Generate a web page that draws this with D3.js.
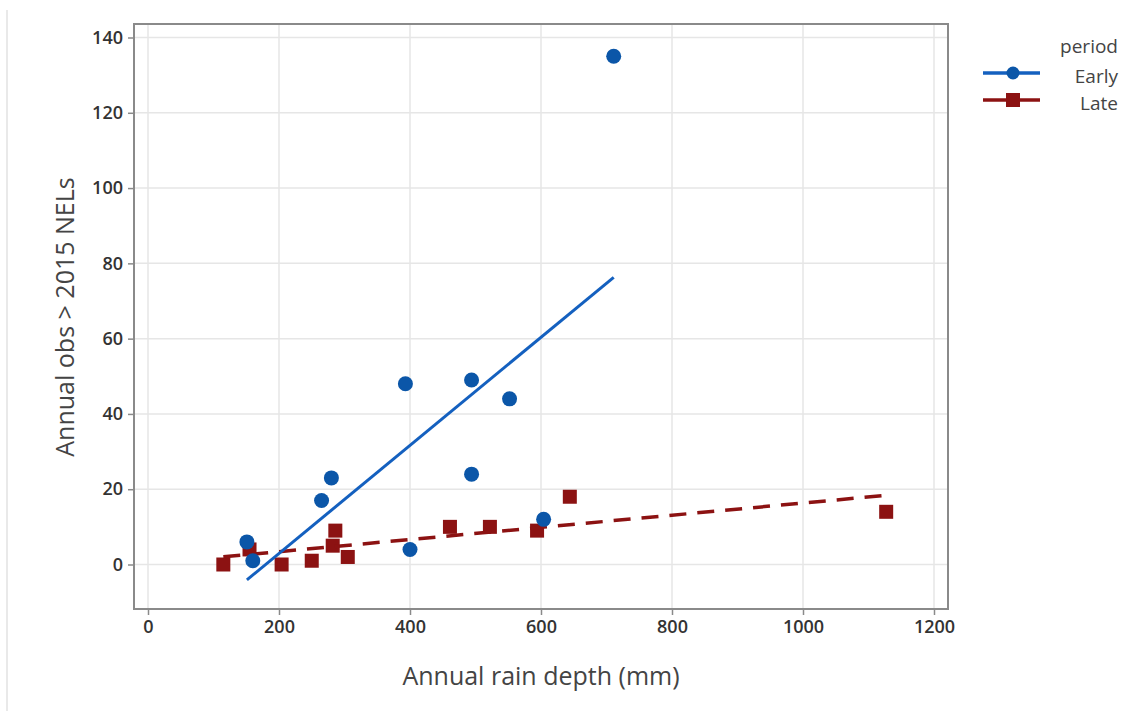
<!DOCTYPE html>
<html>
<head>
<meta charset="utf-8">
<script src="https://cdn.jsdelivr.net/npm/d3@7"></script>
<style>
  body { margin: 0; background: #fff; }
  svg { display: block; font-family: "Open Sans", "Noto Sans", sans-serif; }
</style>
</head>
<body>
<svg></svg>
<script>
// Early period observations
const earlyRain = [151, 160, 265, 280, 393, 494, 494, 552, 400, 604, 711];
const earlyObs = [6, 1, 17, 23, 48, 49, 24, 44, 4, 12, 135];
// Late period observations
const lateRain = [115, 155, 204, 250, 286, 282, 305, 461, 522, 594, 644, 1127];
const lateObs = [0, 4, 0, 1, 9, 5, 2, 10, 10, 9, 18, 14];

const xTicks = [0, 200, 400, 600, 800, 1000, 1200];
const yTicks = [0, 20, 40, 60, 80, 100, 120, 140];
const periods = ['Early', 'Late'];

let width = 1143;
let height = 711;
let panel = { left: 134, top: 24, right: 948, bottom: 609 };

let svg = d3.select('svg').attr('width', width).attr('height', height);

let xScale = d3.scaleLinear().domain([0, 1200]).range([148, 934]);
let yScale = d3.scaleLinear().domain([0, 140]).range([564.5, 37.5]);

// faint frame line at the left of the image
svg.append('line')
  .attr('x1', 7).attr('x2', 7).attr('y1', 10).attr('y2', height)
  .attr('stroke', '#e2e2e2').attr('stroke-width', 1.5);

// grid
let grid = svg.append('g');
grid.selectAll('.gx').data(xTicks).enter().append('line')
  .attr('x1', (d) => xScale(d)).attr('x2', (d) => xScale(d))
  .attr('y1', panel.top).attr('y2', panel.bottom)
  .attr('stroke', '#e6e6e6').attr('stroke-width', 1.5);
grid.selectAll('.gy').data(yTicks).enter().append('line')
  .attr('x1', panel.left).attr('x2', panel.right)
  .attr('y1', (d) => yScale(d)).attr('y2', (d) => yScale(d))
  .attr('stroke', '#e6e6e6').attr('stroke-width', 1.5);

// panel border
svg.append('rect')
  .attr('x', panel.left).attr('y', panel.top)
  .attr('width', panel.right - panel.left).attr('height', panel.bottom - panel.top)
  .attr('fill', 'none').attr('stroke', '#8a8a8a').attr('stroke-width', 2);

// axes
let xAxis = d3.axisBottom(xScale).tickValues(xTicks).tickFormat(d3.format('d')).tickSize(6).tickPadding(5);
let yAxis = d3.axisLeft(yScale).tickValues(yTicks).tickFormat(d3.format('d')).tickSize(6).tickPadding(5);

let gx = svg.append('g').attr('transform', `translate(0, ${panel.bottom})`).call(xAxis);
let gy = svg.append('g').attr('transform', `translate(${panel.left}, 0)`).call(yAxis);
[gx, gy].forEach((g) => {
  g.select('.domain').remove();
  g.selectAll('line').attr('stroke', '#8a8a8a').attr('stroke-width', 1.5);
  g.selectAll('text').attr('fill', '#333').style('font-size', '18px')
    .style('font-weight', '600')
    .style('font-family', '"Open Sans", "Noto Sans", sans-serif');
});

// least squares fit, like geom_smooth(method = "lm")
let fit = (xs, ys) => {
  let mx = d3.mean(xs), my = d3.mean(ys);
  let sxy = d3.sum(xs, (x, i) => (x - mx) * (ys[i] - my));
  let sxx = d3.sum(xs, (x) => (x - mx) * (x - mx));
  let b = sxy / sxx, a = my - b * mx;
  let lo = d3.min(xs), hi = d3.max(xs);
  return [[lo, a + b * lo], [hi, a + b * hi]];
};

let line = d3.line().x((d) => xScale(d[0])).y((d) => yScale(d[1]));

const blue = '#0b56a8';
const lineBlue = '#1460bf';
const red = '#8c1212';

let plot = svg.append('g');

// late points and line
plot.selectAll('.late').data(lateRain).enter().append('rect')
  .attr('x', (d) => xScale(d) - 7)
  .attr('y', (d, i) => yScale(lateObs[i]) - 7)
  .attr('width', 14).attr('height', 14)
  .attr('fill', red);

plot.append('path')
  .attr('d', line(fit(lateRain, lateObs)))
  .attr('fill', 'none').attr('stroke', red).attr('stroke-width', 3.5)
  .attr('stroke-dasharray', '17,11');

// early points and line
plot.selectAll('.early').data(earlyRain).enter().append('circle')
  .attr('cx', (d) => xScale(d))
  .attr('cy', (d, i) => yScale(earlyObs[i]))
  .attr('r', 7.5)
  .attr('fill', blue);

plot.append('path')
  .attr('d', line(fit(earlyRain, earlyObs)))
  .attr('fill', 'none').attr('stroke', lineBlue).attr('stroke-width', 3);

// axis titles
svg.append('text')
  .attr('x', 541).attr('y', 685)
  .attr('text-anchor', 'middle')
  .attr('fill', '#444').style('font-size', '25px')
  .text('Annual rain depth (mm)');

svg.append('text')
  .attr('transform', 'translate(74, 317) rotate(-90)')
  .attr('text-anchor', 'middle')
  .attr('fill', '#444').style('font-size', '25px')
  .text('Annual obs > 2015 NELs');

// legend
let legend = svg.append('g');
legend.append('text')
  .attr('x', 1118).attr('y', 53)
  .attr('text-anchor', 'end').attr('fill', '#444').style('font-size', '19px')
  .text('period');

periods.forEach((p, i) => {
  let y = 73 + i * 27;
  let col = i === 0 ? lineBlue : red;
  legend.append('line')
    .attr('x1', 983).attr('x2', 1040).attr('y1', y).attr('y2', y)
    .attr('stroke', col).attr('stroke-width', 3.5);
  if (i === 0) {
    legend.append('circle').attr('cx', 1013).attr('cy', y).attr('r', 6.5).attr('fill', blue);
  } else {
    legend.append('rect').attr('x', 1006).attr('y', y - 7).attr('width', 14).attr('height', 14).attr('fill', red);
  }
  legend.append('text')
    .attr('x', 1118).attr('y', y + 10)
    .attr('text-anchor', 'end').attr('fill', '#444').style('font-size', '19px')
    .text(p);
});
</script>
</body>
</html>
